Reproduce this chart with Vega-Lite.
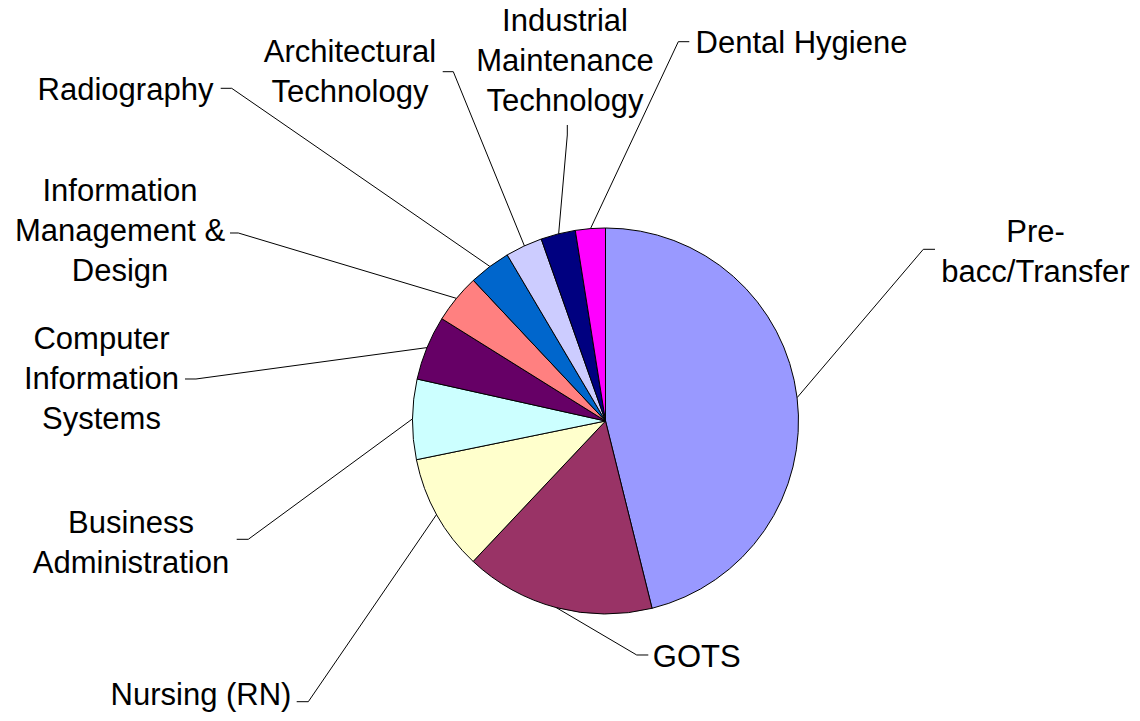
{
  "$schema": "https://vega.github.io/schema/vega-lite/v6.json",
  "width": 1140,
  "height": 721,
  "autosize": "none",
  "padding": 0,
  "background": "white",
  "config": {"view": {"stroke": null}},
  "datasets": {
    "slices": [
      {"category": "Pre-bacc/Transfer", "value": 46.1, "order": 1},
      {"category": "GOTS", "value": 15.9, "order": 2},
      {"category": "Nursing (RN)", "value": 9.75, "order": 3},
      {"category": "Business Administration", "value": 6.7, "order": 4},
      {"category": "Computer Information Systems", "value": 5.4, "order": 5},
      {"category": "Information Management & Design", "value": 4.1, "order": 6},
      {"category": "Radiography", "value": 3.5, "order": 7},
      {"category": "Architectural Technology", "value": 3.1, "order": 8},
      {"category": "Industrial Maintenance Technology", "value": 2.9, "order": 9},
      {"category": "Dental Hygiene", "value": 2.5, "order": 10}
    ],
    "leaders": [
      {"category": "Pre-bacc/Transfer", "seq": 1, "ux": 0.9927, "uy": 0.1210},
      {"category": "Pre-bacc/Transfer", "seq": 2, "ux": 1.6466, "uy": 0.8896},
      {"category": "Pre-bacc/Transfer", "seq": 3, "ux": 1.7073, "uy": 0.8896},
      {"category": "GOTS", "seq": 1, "ux": -0.2554, "uy": -0.9668},
      {"category": "GOTS", "seq": 2, "ux": 0.1617, "uy": -1.2124},
      {"category": "GOTS", "seq": 3, "ux": 0.2218, "uy": -1.2124},
      {"category": "Nursing (RN)", "seq": 1, "ux": -0.8751, "uy": -0.4841},
      {"category": "Nursing (RN)", "seq": 2, "ux": -1.5399, "uy": -1.4544},
      {"category": "Nursing (RN)", "seq": 3, "ux": -1.6000, "uy": -1.4544},
      {"category": "Business Administration", "seq": 1, "ux": -0.9999, "uy": 0.0113},
      {"category": "Business Administration", "seq": 2, "ux": -1.8508, "uy": -0.6130},
      {"category": "Business Administration", "seq": 3, "ux": -1.9109, "uy": -0.6130},
      {"category": "Computer Information Systems", "seq": 1, "ux": -0.9249, "uy": 0.3803},
      {"category": "Computer Information Systems", "seq": 2, "ux": -2.1218, "uy": 0.2176},
      {"category": "Computer Information Systems", "seq": 3, "ux": -2.1788, "uy": 0.2176},
      {"category": "Information Management & Design", "seq": 1, "ux": -0.7722, "uy": 0.6354},
      {"category": "Information Management & Design", "seq": 2, "ux": -1.9026, "uy": 0.9741},
      {"category": "Information Management & Design", "seq": 3, "ux": -1.9456, "uy": 0.9741},
      {"category": "Radiography", "seq": 1, "ux": -0.5990, "uy": 0.8007},
      {"category": "Radiography", "seq": 2, "ux": -1.9368, "uy": 1.7238},
      {"category": "Radiography", "seq": 3, "ux": -1.9938, "uy": 1.7238},
      {"category": "Architectural Technology", "seq": 1, "ux": -0.4202, "uy": 0.9074},
      {"category": "Architectural Technology", "seq": 2, "ux": -0.7886, "uy": 1.8098},
      {"category": "Architectural Technology", "seq": 3, "ux": -0.8435, "uy": 1.8098},
      {"category": "Industrial Maintenance Technology", "seq": 1, "ux": -0.2428, "uy": 0.9701},
      {"category": "Industrial Maintenance Technology", "seq": 2, "ux": -0.1979, "uy": 1.4819},
      {"category": "Industrial Maintenance Technology", "seq": 3, "ux": -0.1979, "uy": 1.5337},
      {"category": "Dental Hygiene", "seq": 1, "ux": -0.0776, "uy": 0.9970},
      {"category": "Dental Hygiene", "seq": 2, "ux": 0.3772, "uy": 1.9653},
      {"category": "Dental Hygiene", "seq": 3, "ux": 0.4342, "uy": 1.9653}
    ],
    "labels": [
      {"label": "Pre-\nbacc/Transfer", "ux": 2.2280, "uy": 0.9745},
      {"label": "GOTS", "ux": 0.4725, "uy": -1.2266},
      {"label": "Nursing (RN)", "ux": -2.0959, "uy": -1.4245},
      {"label": "Business\nAdministration", "ux": -2.4585, "uy": -0.5333},
      {"label": "Computer\nInformation\nSystems", "ux": -2.6114, "uy": 0.4201},
      {"label": "Information\nManagement &\nDesign", "ux": -2.5155, "uy": 1.1869},
      {"label": "Radiography", "ux": -2.4870, "uy": 1.7112},
      {"label": "Architectural\nTechnology", "ux": -1.3238, "uy": 1.9071},
      {"label": "Industrial\nMaintenance\nTechnology", "ux": -0.2098, "uy": 2.0677},
      {"label": "Dental Hygiene", "ux": 1.0155, "uy": 1.9553}
    ]
  },
  "layer": [
    {
      "data": {"name": "slices"},
      "mark": {"type": "arc", "radius": 193, "stroke": "black", "strokeWidth": 1},
      "encoding": {
        "x": {"datum": 0, "type": "quantitative", "axis": null, "scale": {"domain": [-3.1373, 2.7694], "nice": false, "zero": false}},
        "y": {"datum": 0, "type": "quantitative", "axis": null, "scale": {"domain": [-1.5544, 2.1813], "nice": false, "zero": false}},
        "theta": {"field": "value", "type": "quantitative", "stack": true},
        "order": {"field": "order", "type": "quantitative"},
        "color": {
          "field": "category",
          "type": "nominal",
          "legend": null,
          "scale": {
            "domain": ["Pre-bacc/Transfer", "GOTS", "Nursing (RN)", "Business Administration", "Computer Information Systems", "Information Management & Design", "Radiography", "Architectural Technology", "Industrial Maintenance Technology", "Dental Hygiene"],
            "range": ["#9999FF", "#993366", "#FFFFCC", "#CCFFFF", "#660066", "#FF8080", "#0066CC", "#CCCCFF", "#000080", "#FF00FF"]
          }
        }
      }
    },
    {
      "data": {"name": "leaders"},
      "mark": {"type": "line", "color": "#000000", "strokeWidth": 1},
      "encoding": {
        "x": {"field": "ux", "type": "quantitative", "axis": null, "scale": {"domain": [-3.1373, 2.7694], "nice": false, "zero": false}},
        "y": {"field": "uy", "type": "quantitative", "axis": null, "scale": {"domain": [-1.5544, 2.1813], "nice": false, "zero": false}},
        "detail": {"field": "category", "type": "nominal"},
        "order": {"field": "seq", "type": "quantitative"}
      }
    },
    {
      "data": {"name": "labels"},
      "mark": {"type": "text", "font": "Liberation Sans", "fontSize": 31, "lineHeight": 40, "lineBreak": "\n", "align": "center", "baseline": "middle", "color": "#000000"},
      "encoding": {
        "x": {"field": "ux", "type": "quantitative", "axis": null, "scale": {"domain": [-3.1373, 2.7694], "nice": false, "zero": false}},
        "y": {"field": "uy", "type": "quantitative", "axis": null, "scale": {"domain": [-1.5544, 2.1813], "nice": false, "zero": false}},
        "text": {"field": "label", "type": "nominal"}
      }
    }
  ]
}
